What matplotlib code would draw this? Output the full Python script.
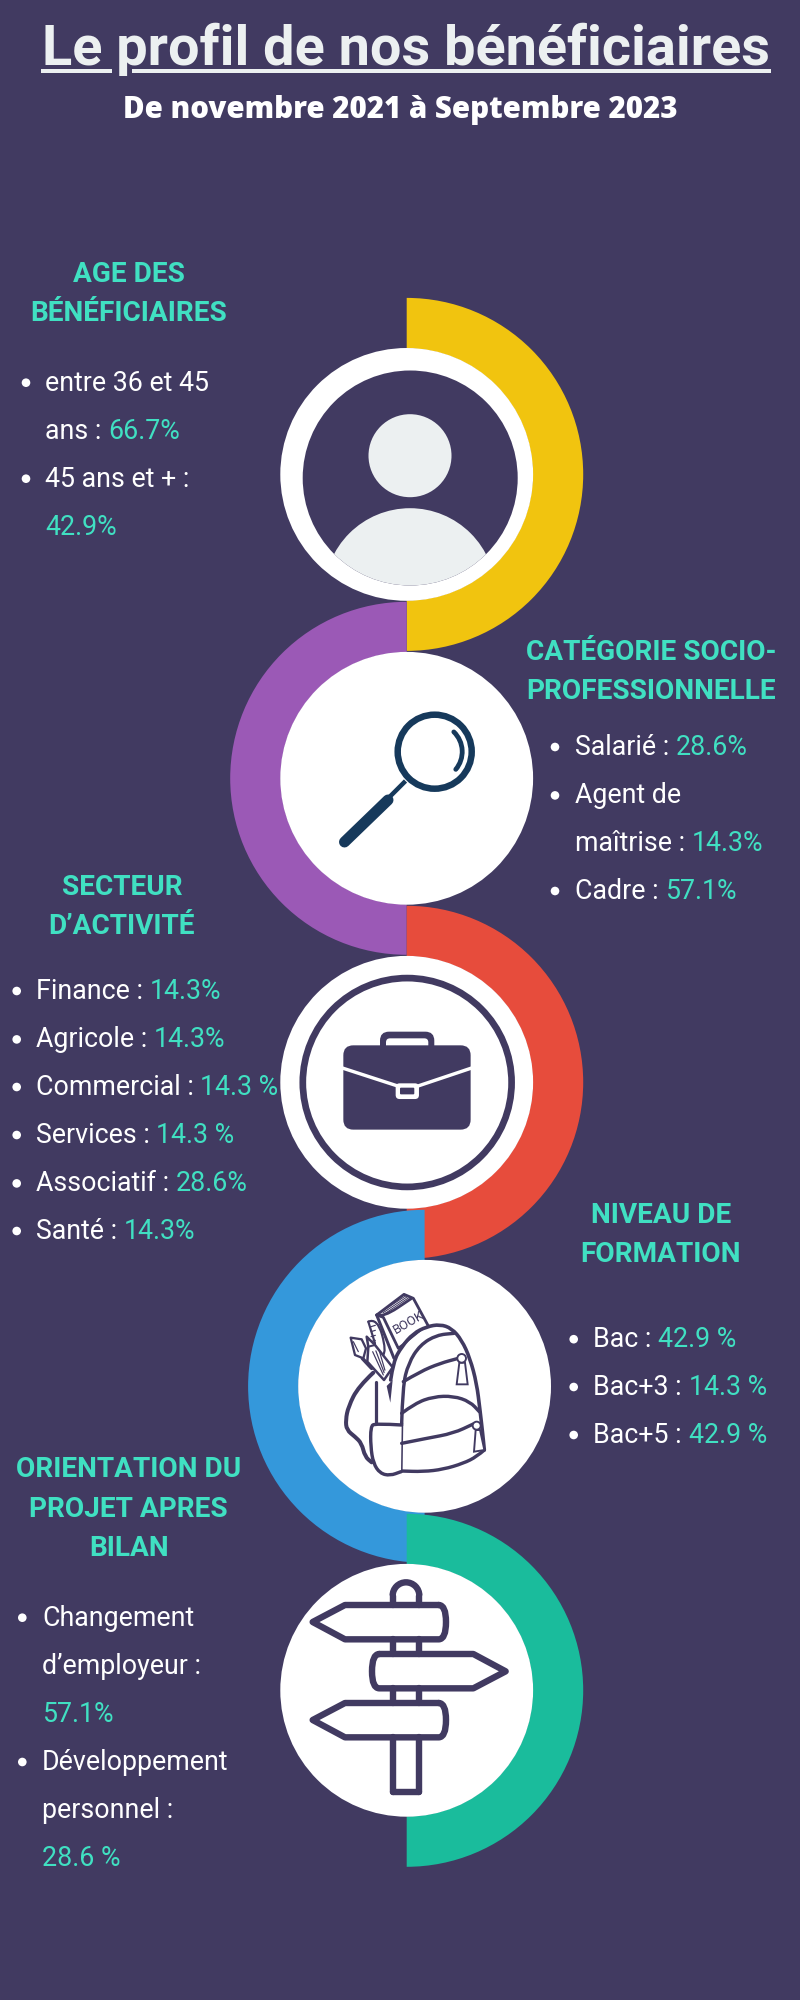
import matplotlib
matplotlib.use("Agg")
import matplotlib.pyplot as plt
from matplotlib.patches import Wedge, Circle, Rectangle, FancyBboxPatch, PathPatch, Polygon, Arc
from matplotlib.path import Path

# ---------- content ----------
TITLE = "Le profil de nos bénéficiaires"
SUBTITLE = "De novembre 2021 à Septembre 2023"

AGE_HEAD = ["AGE DES", "BÉNÉFICIAIRES"]
AGE_LINES = [("entre 36 et 45", ""), ("ans : ", "66.7%"), ("45 ans et + : ", ""), ("", "42.9%")]
AGE_BULLETS = [True, False, True, False]

CSP_HEAD = ["CATÉGORIE SOCIO-", "PROFESSIONNELLE"]
CSP_LINES = [("Salarié : ", "28.6%"), ("Agent de", ""), ("maîtrise : ", "14.3%"), ("Cadre : ", "57.1%")]
CSP_BULLETS = [True, True, False, True]

SEC_HEAD = ["SECTEUR", "D’ACTIVITÉ"]
SEC_LINES = [("Finance : ", "14.3%"), ("Agricole : ", "14.3%"), ("Commercial : ", "14.3 %"),
             ("Services : ", "14.3 %"), ("Associatif : ", "28.6%"), ("Santé : ", "14.3%")]
SEC_BULLETS = [True] * 6

FOR_HEAD = ["NIVEAU DE", "FORMATION"]
FOR_LINES = [("Bac : ", "42.9 %"), ("Bac+3 : ", "14.3 %"), ("Bac+5 : ", "42.9 %")]
FOR_BULLETS = [True] * 3

ORI_HEAD = ["ORIENTATION DU", "PROJET APRES", "BILAN"]
ORI_LINES = [("Changement", ""), ("d’employeur : ", ""), ("", "57.1%"),
             ("Développement", ""), ("personnel : ", ""), ("", "28.6 %")]
ORI_BULLETS = [True, False, False, True, False, False]

BG = "#413A61"; TEAL = "#40E0C2"; LIGHT = "#ECF0F1"; NAVY = "#16395B"
YELLOW = "#F1C40F"; PURPLE = "#9B59B6"; RED = "#E74C3C"; BLUE = "#3498DB"; GREEN = "#1ABC9C"

# ---------- canvas in pixels ----------
fig = plt.figure(figsize=(8, 20), dpi=100, facecolor=BG)
ax = fig.add_axes([0, 0, 1, 1])
ax.set_xlim(0, 800); ax.set_ylim(2000, 0); ax.axis("off")
renderer = fig.canvas.get_renderer()
PT = 0.72  # px -> pt


def ring(cx, cy, side, color, z):
    t1, t2 = (-90, 90) if side == "r" else (90, 270)
    ax.add_patch(Wedge((cx, cy), 176.5, t1, t2, width=50.5, fc=color, ec="none", zorder=z))
    ax.add_patch(Circle((cx, cy), 126.4, fc="white", ec="none", zorder=z + 0.1))


ring(406.7, 474.4, "r", YELLOW, 2)
ring(406.7, 778.3, "l", PURPLE, 2)
ring(406.7, 1082.3, "r", RED, 2)
ring(424.6, 1386.3, "l", BLUE, 3)
ring(406.7, 1690.3, "r", GREEN, 4)

ICON = 6
# ---------- person icon ----------
face = Circle((410.2, 478), 107.5, fc=BG, ec="none", zorder=ICON)
ax.add_patch(face)
ax.add_patch(Circle((410, 455.7), 41.5, fc=LIGHT, ec="none", zorder=ICON + 1))
body = Circle((410, 594), 85.8, fc=LIGHT, ec="none", zorder=ICON + 1)
ax.add_patch(body)
body.set_clip_path(face)

# ---------- magnifier icon ----------
ax.add_patch(Circle((434.7, 751.7), 37, fc="none", ec=NAVY, lw=6.5 * PT, zorder=ICON))
ax.add_patch(Arc((434.7, 751.7), 55, 55, theta1=-46, theta2=40, color=NAVY, lw=4.8 * PT,
                 capstyle="round", zorder=ICON))
ax.plot([405.5, 388], [781, 798.5], color=NAVY, lw=4.5 * PT, solid_capstyle="butt", zorder=ICON)
ax.plot([388, 344.5], [800, 842], color=NAVY, lw=11 * PT, solid_capstyle="round", zorder=ICON)


# ---------- briefcase icon ----------
def bz(x, y):
    return 220 + x / 3, 900 + y / 3


ax.add_patch(Circle((407.2, 1082.5), 104.4, fc="none", ec=BG, lw=6.7 * PT, zorder=ICON))
hx, hy = bz(480, 395)
ax.add_patch(FancyBboxPatch((hx + 9, hy + 9), 54.3 - 18, 24, boxstyle="round,pad=9", fc=BG, ec="none", zorder=ICON))
hx, hy = bz(498, 415)
ax.add_patch(FancyBboxPatch((hx + 4, hy + 4), 42.3 - 8, 7, boxstyle="round,pad=4", fc="white", ec="none", zorder=ICON + 0.5))
bx, by = bz(370, 436)
ax.add_patch(FancyBboxPatch((bx + 10, by + 10), 127.3 - 20, 84.3 - 20, boxstyle="round,pad=10", fc=BG, ec="none", zorder=ICON + 1))
ax.plot(*zip(bz(370, 505), bz(530, 557)), color="white", lw=3.4 * PT, zorder=ICON + 2)
ax.plot(*zip(bz(597, 557), bz(752, 505)), color="white", lw=3.4 * PT, zorder=ICON + 2)
cx0, cy0 = bz(527, 550)
ax.add_patch(FancyBboxPatch((cx0 + 4, cy0 + 4), 23.3 - 8, 15.7 - 8, boxstyle="round,pad=4", fc="white", ec="none", zorder=ICON + 2))
cx0, cy0 = bz(540, 563)
ax.add_patch(FancyBboxPatch((cx0 + 1, cy0 + 1), 14.3 - 2, 6.7 - 2, boxstyle="round,pad=1", fc=BG, ec="none", zorder=ICON + 3))


# ---------- backpack icon ----------
def pz(pts):
    return [(330 + x / 3, 1280 + y / 3) for x, y in pts]


def pline(pts, lw=3.1, fill=False, z=ICON + 1):
    p = pz(pts)
    if fill:
        ax.add_patch(Polygon(p, closed=True, fc="white", ec=BG, lw=lw * PT, joinstyle="round", zorder=z))
    else:
        verts = [p[0]]; codes = [Path.MOVETO]
        for i in range(1, len(p) - 1):
            mid = ((p[i][0] + p[i + 1][0]) / 2, (p[i][1] + p[i + 1][1]) / 2)
            verts += [p[i], mid]; codes += [Path.CURVE3, Path.CURVE3]
        verts.append(p[-1]); codes.append(Path.LINETO)
        ax.add_patch(PathPatch(Path(verts, codes), fc="none", ec=BG, lw=lw * PT, capstyle="round", joinstyle="round", zorder=z))


# book
pline([(140, 105), (222, 43), (250, 55), (295, 138), (205, 205), (160, 112)], lw=2.8, fill=True, z=ICON)
pline([(140, 105), (160, 112), (245, 55)], lw=2.8, z=ICON)
pline([(140, 105), (192, 235)], lw=3.0, z=ICON)
for d in (0, 7, 14):
    pline([(152 + d, 97 + d * 0.2), (228 + d * 0.5, 47 + d * 0.5)], lw=1.0, z=ICON)
ax.text(330 + 236 / 3, 1280 + 128 / 3, "BOOK", rotation=30, ha="center", va="center", fontsize=13 * PT,
        color=BG, family="Roboto", zorder=ICON + 0.5)
# ruler, pencil, brush
pline([(115, 125), (142, 113), (170, 215), (148, 235)], lw=2.2, z=ICON - 0.2)
pline([(115, 125), (135, 190)], lw=2.2, z=ICON - 0.2)
for yy in (140, 155, 170, 185):
    pline([(123, yy), (136, yy - 4)], lw=1.2, z=ICON - 0.2)
pline([(110, 170), (135, 195), (188, 262), (162, 300), (112, 245), (115, 200), (110, 170)], lw=2.5, fill=True, z=ICON + 0.2)
for dd in (0, 12, 24):
    pline([(128 + dd * .8, 215 - dd * .2), (172 + dd * .2 - 12, 285 - dd * .6)], lw=1.2, z=ICON + 0.3)
pline([(115, 200), (135, 195)], lw=2.0, z=ICON + 0.3)
pline([(62, 173), (95, 178), (108, 205), (100, 235), (75, 225), (62, 173)], lw=2.3, fill=True, z=ICON + 0.4)
pline([(70, 185), (85, 215)], lw=1.2, z=ICON + 0.4)
pline([(97, 235), (125, 265)], lw=3.6, z=ICON + 0.1)
# back pad and strap
pline([(130, 278), (85, 320), (55, 380), (47, 420), (50, 450), (75, 470), (95, 490), (105, 530), (125, 547)], lw=4.0)
pline([(137, 305), (137, 430)], lw=3.2)
# bag shell: white fill first
ax.add_patch(Polygon(pz([(182, 300), (210, 205), (290, 140), (365, 145), (420, 235), (450, 390), (463, 510),
                         (340, 568), (213, 575), (213, 430)]), closed=True, fc="white", ec="none", zorder=ICON + 0.9))
ax.add_patch(Polygon(pz([(170, 318), (188, 300), (181, 368)]), closed=True, fc=BG, ec="none", zorder=ICON + 1))
pline([(182, 300), (190, 245), (215, 200), (250, 160), (290, 140), (330, 133), (365, 145), (395, 180), (420, 235),
       (440, 310), (450, 390), (458, 460), (463, 510)], lw=3.6)
pline([(215, 430), (218, 320), (235, 250), (270, 195), (320, 165), (372, 160)], lw=3.4)
pline([(215, 430), (213, 575)], lw=3.2)
pline([(463, 510), (440, 530), (400, 550), (340, 568), (280, 575), (213, 573)], lw=3.4)
# side pocket
ax.add_patch(Polygon(pz([(125, 432), (215, 435), (213, 575), (160, 585), (130, 550)]), closed=True, fc="white", ec="none", zorder=ICON + 1))
pline([(215, 435), (135, 430), (122, 440), (122, 500), (130, 550), (150, 580), (180, 587), (213, 575)], lw=3.4, z=ICON + 1.2)
# zips
pline([(220, 305), (270, 275), (330, 250), (385, 235)], lw=3.4)
pline([(215, 400), (255, 370), (310, 350), (370, 348), (420, 365), (448, 395)], lw=3.4)
pline([(215, 490), (290, 475), (370, 460), (430, 432)], lw=3.4)
for (cxx, cyy, rr), tz in (((395, 235, 13), [(388, 248), (380, 313), (413, 313), (405, 248)]),
                           ((440, 437, 12), [(437, 450), (432, 515), (463, 510), (450, 450)])):
    ax.add_patch(Polygon(pz(tz), closed=True, fc="white", ec=BG, lw=1.9 * PT, zorder=ICON + 1.5))
    ax.add_patch(Circle((330 + cxx / 3, 1280 + cyy / 3), rr / 3, fc="white", ec=BG, lw=1.9 * PT, zorder=ICON + 1.6))


# ---------- signpost icon ----------
def sz(x, y):
    return 240 + x / 3, 1500 + y / 3


SLW = 6.4 * PT


def sline(pts, codes=None):
    v = [sz(*q) for q in pts]
    ax.add_patch(PathPatch(Path(v, codes), fc="none", ec=BG, lw=SLW, joinstyle="round", capstyle="round", zorder=ICON))


ax.add_patch(Arc(sz(498, 287), 80 / 3, 80 / 3, theta1=180, theta2=360, color=BG, lw=SLW, zorder=ICON))
sline([(458, 287), (458, 315)]); sline([(538, 287), (538, 315)])
for y0, y1 in ((418, 462), (565, 608), (712, 876)):
    sline([(458, y0), (458, y1)]); sline([(538, y0), (538, y1)])
sline([(458, 876), (538, 876)])
L = [Path.MOVETO, Path.LINETO, Path.LINETO, Path.LINETO, Path.LINETO, Path.CURVE3, Path.CURVE3, Path.CURVE3, Path.CURVE3]
for dy in (0, 294):
    sline([(596, 315 + dy), (315, 315 + dy), (218, 366 + dy), (315, 418 + dy), (596, 418 + dy),
           (618, 418 + dy), (618, 366 + dy), (618, 315 + dy), (596, 315 + dy)], L)
sline([(418, 462), (700, 462), (797, 514), (700, 565), (418, 565), (396, 565), (396, 514), (396, 462), (418, 462)], L)

# ---------- text ----------
BODY_PX = 26.75
HEAD_PX = 28.0


def px_width(s, **kw):
    t = ax.text(0, 0, s, **kw)
    w = t.get_window_extent(renderer).width
    t.remove()
    return w


def heading(lines, cx, baselines):
    for s, y in zip(lines, baselines):
        ax.text(cx, y, s, ha="center", va="baseline", color=TEAL, family="Roboto", weight="bold",
                fontsize=HEAD_PX * PT, zorder=10)


def items(lines, bullets, bx, tx, baselines):
    kw = dict(family="Roboto", fontsize=BODY_PX * PT)
    for (a, b), bul, y in zip(lines, bullets, baselines):
        if bul:
            ax.add_patch(Circle((bx, y - 8), 4.3, fc="white", ec="none", zorder=10))
        if a:
            ax.text(tx, y, a.rstrip(), ha="left", va="baseline", color="white", zorder=10, **kw)
        if b:
            x = tx
            if a:
                x = tx + px_width(a + b, **kw) - px_width(b, **kw)
            ax.text(x, y, b, ha="left", va="baseline", color=TEAL, zorder=10, **kw)


heading(AGE_HEAD, 128.8, [281.7, 321])
items(AGE_LINES, AGE_BULLETS, 26, 44.9, [390.7, 439, 486.7, 535])
heading(CSP_HEAD, 651.2, [660, 699])
items(CSP_LINES, CSP_BULLETS, 555, 574.6, [755, 803.4, 851.4, 899])
heading(SEC_HEAD, 122, [895, 934])
items(SEC_LINES, SEC_BULLETS, 16.7, 35.9, [999, 1047.4, 1095, 1143, 1191.4, 1239])
heading(FOR_HEAD, 661, [1222.8, 1262.2])
items(FOR_LINES, FOR_BULLETS, 573.7, 593.4, [1347.2, 1395, 1443])
heading(ORI_HEAD, 128.7, [1477.3, 1516.7, 1555.7])
items(ORI_LINES, ORI_BULLETS, 22.3, 41.9, [1625.7, 1674.3, 1722.3, 1770, 1818.3, 1866])

ax.text(406, 65, TITLE, ha="center", va="baseline", color=LIGHT, family="Roboto", weight="bold",
        fontsize=55.9 * PT, zorder=10)
ax.add_patch(Rectangle((41, 68.5), 71, 4.6, fc=LIGHT, ec="none", zorder=10))
ax.add_patch(Rectangle((132, 68.5), 639, 4.6, fc=LIGHT, ec="none", zorder=10))
ax.text(400, 118, SUBTITLE, ha="center", va="baseline", color="white", family="Open Sans", weight="extra bold",
        fontsize=29.5 * PT, zorder=10)

fig.savefig("out.png", dpi=100, facecolor=BG)
